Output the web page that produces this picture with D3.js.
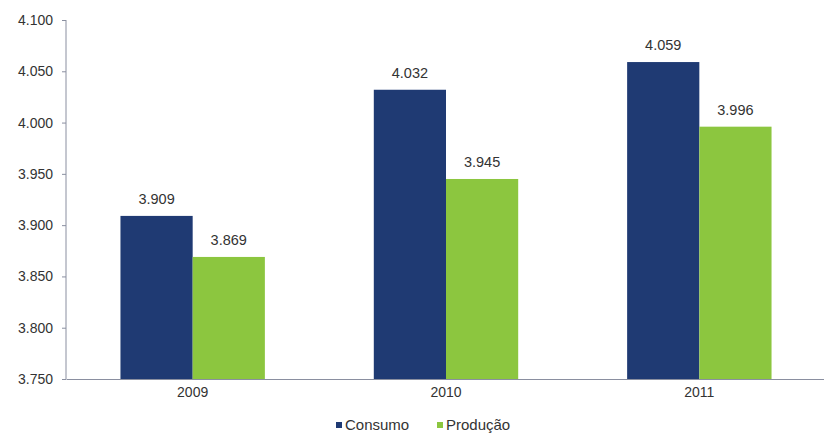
<!DOCTYPE html>
<html><head><meta charset="utf-8">
<script src="https://cdn.jsdelivr.net/npm/d3@7"></script>
<style>body{margin:0;background:#fff}svg{display:block;font-family:"Liberation Sans",Arial,sans-serif}</style>
</head><body><svg id="c" width="824" height="435"></svg>
<script>
const categories = ["2009","2010","2011"];
const seriesNames = ["Consumo","Produção"];
const consumo = [3909, 4032, 4059];
const producao = [3869, 3945, 3996];
const yTicks = [3750,3800,3850,3900,3950,4000,4050,4100];
const colors = ["#1f3a73","#8cc63f"];

const loc = d3.formatLocale({decimal:",",thousands:".",grouping:[3],currency:["",""]});
const fmt = loc.format(",d");
const svg = d3.select("#c");
const x0 = d3.scaleBand().domain(categories).range([66,826]).paddingInner(0.43).paddingOuter(0.215);
const x1 = d3.scaleBand().domain(seriesNames).range([0,x0.bandwidth()]);
const y = d3.scaleLinear().domain([3750,4100]).range([379,20]);
const data = [consumo, producao];

const yAx = svg.append("g").attr("transform","translate(66,0)")
  .call(d3.axisLeft(y).tickValues(yTicks).tickFormat(fmt).tickSize(4).tickPadding(9));
yAx.select(".domain").attr("stroke","#8a8fa0").attr("d","M0,20V379");
yAx.selectAll(".tick line").attr("stroke","#8a8fa0");
yAx.selectAll("text").attr("fill","#333").style("font-size","14px").style("font-family","Liberation Sans, Arial, sans-serif");

const xAx = svg.append("g").attr("transform","translate(0,379)")
  .call(d3.axisBottom(x0).tickSize(0).tickPadding(8));
xAx.select(".domain").attr("stroke","#8a8fa0");
xAx.selectAll("text").attr("fill","#333").style("font-size","14px").style("font-family","Liberation Sans, Arial, sans-serif");

seriesNames.forEach((s,si)=>{
  const g = svg.append("g");
  g.selectAll("rect").data(data[si]).join("rect")
    .attr("x",(d,i)=>x0(categories[i])+x1(s))
    .attr("width",x1.bandwidth())
    .attr("y",d=>y(d))
    .attr("height",d=>379-y(d))
    .attr("fill",colors[si]);
  g.selectAll("text").data(data[si]).join("text")
    .attr("x",(d,i)=>x0(categories[i])+x1(s)+x1.bandwidth()/2)
    .attr("y",d=>y(d)-12)
    .attr("text-anchor","middle")
    .attr("fill","#333").style("font-size","14.5px")
    .text(d=>fmt(d));
});

const leg = svg.append("g");
const legX = [336, 437];
seriesNames.forEach((s,i)=>{
  leg.append("rect").attr("x",legX[i]).attr("y",422).attr("width",6).attr("height",6).attr("fill",colors[i]);
  leg.append("text").attr("x",legX[i]+9).attr("y",430).attr("fill","#333").style("font-size","15px").text(s);
});
</script></body></html>
